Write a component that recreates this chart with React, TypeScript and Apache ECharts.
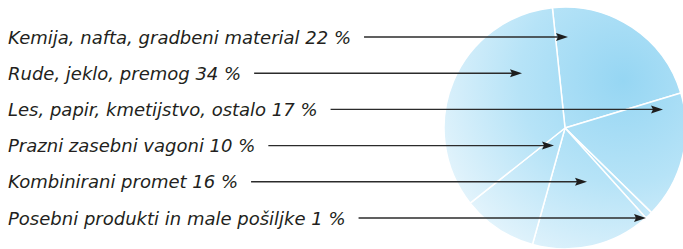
import React, { useEffect, useRef } from "react";
import * as echarts from "echarts";

// Slices in clockwise order starting from the top
const categories = [
  "Kemija, nafta, gradbeni material",
  "Les, papir, kmetijstvo, ostalo",
  "Posebni produkti in male pošiljke",
  "Kombinirani promet",
  "Prazni zasebni vagoni",
  "Rude, jeklo, premog",
];
const shares = [22, 17, 1, 16, 10, 34];
// row (top to bottom) where each slice's label is written
const labelRows = [0, 2, 5, 4, 3, 1];
// x of each arrow tip
const arrowTipX = [568, 663, 646, 587, 554, 522];

const W = 683;
const H = 249;
const FONT_FAMILY = "DejaVu Sans";
const FONT_SIZE = 18;
const ROW0 = 37;
const ROW_STEP = 36.2;
const TEXT_X = 8;

function measure(text: string): number {
  const c = document.createElement("canvas");
  const ctx = c.getContext("2d")!;
  ctx.font = `italic ${FONT_SIZE}px "${FONT_FAMILY}"`;
  return ctx.measureText(text).width;
}

export default function App() {
  const ref = useRef<HTMLDivElement>(null);
  useEffect(() => {
    if (!ref.current) return;
    const chart = echarts.init(ref.current, undefined, { renderer: "svg" });
    const labelText = (i: number) => `${categories[i]} ${shares[i]} %`;

    const graphics: any[] = [];
    categories.forEach((_, i) => {
      const y = ROW0 + labelRows[i] * ROW_STEP;
      const txt = labelText(i);
      const startX = TEXT_X + measure(txt) + 13;
      const tip = arrowTipX[i];
      graphics.push({
        type: "text",
        x: TEXT_X,
        y: y,
        silent: true,
        z: 10,
        style: {
          text: txt,
          fontFamily: FONT_FAMILY,
          fontStyle: "italic",
          fontSize: FONT_SIZE,
          fill: "#231f20",
          textAlign: "left",
          textVerticalAlign: "middle",
        },
      });
      graphics.push({
        type: "line",
        shape: { x1: startX, y1: y, x2: tip - 9, y2: y },
        style: { stroke: "#2b2b2b", lineWidth: 1.4 },
        silent: true,
        z: 10,
      });
      graphics.push({
        type: "polygon",
        shape: {
          points: [
            [tip - 12, y - 4],
            [tip, y],
            [tip - 12, y + 4],
            [tip - 10, y],
          ],
        },
        style: { fill: "#1e1e1e" },
        silent: true,
        z: 10,
      });
    });

    const gradient = new echarts.graphic.RadialGradient(
      623,
      80,
      230,
      [
        { offset: 0, color: "#96d6f3" },
        { offset: 0.45, color: "#b6e3f7" },
        { offset: 0.8, color: "#dcf1fb" },
        { offset: 1, color: "#f4fbfe" },
      ],
      true
    );

    chart.setOption({
      animation: false,
      series: [
        {
          type: "pie",
          center: [565, 128],
          radius: 121,
          startAngle: 96,
          clockwise: true,
          silent: true,
          itemStyle: {
            color: gradient,
            borderColor: "#ffffff",
            borderWidth: 1.5,
          },
          label: { show: false },
          labelLine: { show: false },
          data: categories.map((name, i) => ({ name, value: shares[i] })),
        },
      ],
      graphic: graphics,
    });
    return () => chart.dispose();
  }, []);
  return (
    <div
      ref={ref}
      style={{ position: "fixed", left: 0, top: 0, width: W, height: H, background: "#fff" }}
    />
  );
}
